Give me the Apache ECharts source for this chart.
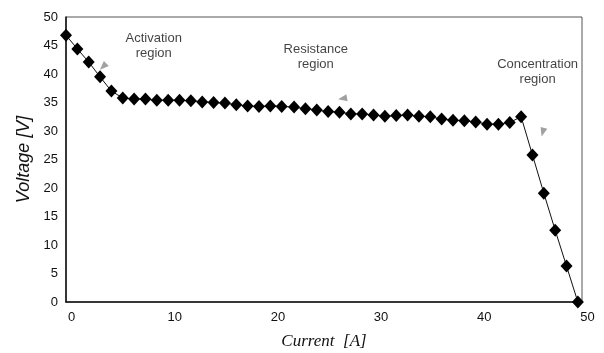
<!DOCTYPE html>
<html>
<head>
<meta charset="utf-8">
<script src="https://cdn.jsdelivr.net/npm/echarts@6/dist/echarts.min.js"></script>
<style>html,body{margin:0;padding:0;background:#fff}#c{width:604px;height:353px}</style>
</head>
<body>
<div id="c"></div>
<script>
// Current [A]
var currentA = [0, 1.1, 2.2, 3.3, 4.4, 5.5, 6.6, 7.7, 8.8, 9.9,
  11.0, 12.1, 13.2, 14.3, 15.4, 16.5, 17.6, 18.7, 19.8, 20.9,
  22.1, 23.2, 24.3, 25.4, 26.5, 27.6, 28.7, 29.8, 30.9, 32.0,
  33.1, 34.2, 35.3, 36.4, 37.5, 38.6, 39.7, 40.8, 41.9, 43.0,
  44.1, 45.2, 46.3, 47.4, 48.5, 49.6];
// Voltage [V]
var voltageV = [46.8, 44.4, 42.1, 39.5, 37.0, 35.8, 35.6, 35.6, 35.4, 35.4,
  35.4, 35.3, 35.1, 35.0, 34.9, 34.6, 34.4, 34.3, 34.4, 34.3,
  34.2, 33.9, 33.7, 33.4, 33.3, 33.0, 33.0, 32.8, 32.6, 32.7,
  32.8, 32.6, 32.5, 32.1, 31.9, 31.8, 31.6, 31.2, 31.2, 31.5,
  32.5, 25.8, 19.1, 12.6, 6.3, 0];
// region annotations
var regionNames = ['Activation\nregion', 'Resistance\nregion', 'Concentration\nregion'];
var regionX = [8.5, 24.2, 45.7];
var regionY = [44.9, 43.0, 40.3];
// arrowheads
var arrowX = [3.6, 26.8, 46.2];
var arrowY = [41.3, 35.7, 29.8];
var arrowAngle = [135, 100, 165];
var xTicks = {min: 0, max: 50, interval: 10};
var yTicks = {min: 0, max: 50, interval: 5};

var lineData = currentA.map(function (x, i) { return [x, voltageV[i]]; });
var textData = regionNames.map(function (t, i) { return [regionX[i], regionY[i], t]; });
var arrowData = arrowX.map(function (x, i) {
  return {value: [x, arrowY[i]], symbolRotate: arrowAngle[i]};
});

var chart = echarts.init(document.getElementById('c'), null, {renderer: 'canvas'});
var labelFont = {fontFamily: 'Liberation Sans', fontSize: 13, color: '#111'};
chart.setOption({
  backgroundColor: '#fff',
  animation: false,
  grid: {left: 66, right: 22, top: 17, bottom: 51, show: true, borderColor: '#555', borderWidth: 1,
    containLabel: false, outerBoundsMode: 'none'},
  xAxis: {
    type: 'value', min: xTicks.min, max: xTicks.max, interval: xTicks.interval,
    splitLine: {show: false}, axisTick: {show: false},
    axisLine: {show: true, lineStyle: {color: '#111', width: 1.5}},
    axisLabel: Object.assign({margin: 9, padding: [0, 0, 0, 11]}, labelFont),
    name: 'Current  [A]', nameLocation: 'middle', nameGap: 31,
    nameTextStyle: {fontFamily: 'Liberation Serif', fontStyle: 'italic', fontSize: 17, color: '#111'}
  },
  yAxis: {
    type: 'value', min: yTicks.min, max: yTicks.max, interval: yTicks.interval,
    splitLine: {show: false}, axisTick: {show: false},
    axisLine: {show: true, lineStyle: {color: '#111', width: 1.5}},
    axisLabel: Object.assign({margin: 8}, labelFont),
    name: 'Voltage [V]', nameLocation: 'middle', nameGap: 30,
    nameTextStyle: {fontFamily: 'Liberation Sans', fontStyle: 'italic', fontSize: 18, color: '#111'}
  },
  series: [
    {
      type: 'line', data: lineData, clip: false,
      symbol: 'diamond', symbolSize: [12, 13], showAllSymbol: true,
      lineStyle: {color: '#111', width: 1},
      itemStyle: {color: '#000'}, z: 3
    },
    {
      type: 'scatter', data: textData, symbolSize: 0, silent: true,
      label: {show: true, position: 'inside', formatter: function (p) { return p.data[2]; },
        fontFamily: 'Liberation Sans', fontSize: 13, lineHeight: 15, color: '#111', align: 'center'}
    },
    {
      type: 'scatter', data: arrowData, symbol: 'triangle', symbolSize: [7, 9],
      itemStyle: {color: '#8a8a8a'}, silent: true
    }
  ]
});
</script>
</body>
</html>
